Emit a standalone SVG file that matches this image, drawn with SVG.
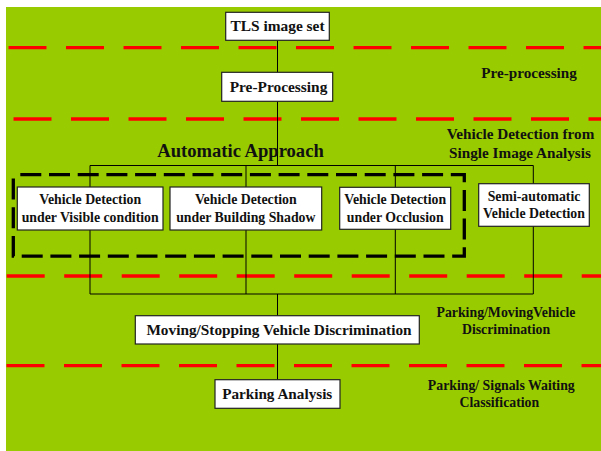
<svg xmlns="http://www.w3.org/2000/svg" width="601" height="451" viewBox="0 0 601 451">
<style>
text{font-family:"Liberation Serif","Times New Roman",serif;font-weight:bold;fill:#111;text-anchor:middle}
.box{fill:#fff;stroke:#222;stroke-width:1.2}
.conn{stroke:#000;stroke-width:1;fill:none}
.sep{stroke:#ff0000;stroke-width:3.3;stroke-dasharray:38 19.5}
.b{font-size:15.4px}
.s{font-size:13.8px}
.lab{font-size:13.8px}
</style>
<rect x="0" y="0" width="601" height="451" fill="#fff"/>
<rect x="6" y="7" width="595" height="444" fill="#99cc00"/>
<g id="separators">
<line class="sep" x1="8.5" y1="47.7" x2="601" y2="47.7"/>
<line class="sep" x1="13.5" y1="119" x2="601" y2="119"/>
<line class="sep" x1="6.7" y1="276" x2="601" y2="276"/>
<line class="sep" x1="6.5" y1="365.7" x2="601" y2="365.7"/>
</g>
<g id="connectors">
<line class="conn" x1="277.5" y1="40.3" x2="277.5" y2="72.3"/>
<line class="conn" x1="277.5" y1="101.3" x2="277.5" y2="165.5"/>
<polyline class="conn" points="90,294 90,165.5 533.3,165.5 533.3,294 90,294"/>
<line class="conn" x1="246" y1="165.5" x2="246" y2="294"/>
<line class="conn" x1="395.3" y1="165.5" x2="395.3" y2="294"/>
<line class="conn" x1="277.5" y1="294" x2="277.5" y2="315.7"/>
<line class="conn" x1="277.5" y1="344" x2="277.5" y2="379.7"/>
</g>
<g id="automatic-approach">
<rect x="13.3" y="174.7" width="451" height="81.5" fill="none" stroke="#000" stroke-width="3.3" stroke-dasharray="21 7.7" stroke-dashoffset="-7"/>
<text x="240.5" y="156.7" style="font-size:18.6px">Automatic Approach</text>
</g>
<g id="tls">
<rect class="box" x="225.7" y="12.3" width="103.6" height="28"/>
<text class="b" x="277.5" y="30.7">TLS image set</text>
</g>
<g id="preprocessing">
<rect class="box" x="221.7" y="72.3" width="111" height="29"/>
<text class="b" x="278.5" y="91.7">Pre-Processing</text>
</g>
<g id="visible">
<rect class="box" x="17.3" y="187" width="145.7" height="43"/>
<text class="s" x="90.2" y="204">Vehicle Detection</text>
<text class="s" x="90.2" y="221.7">under Visible condition</text>
</g>
<g id="shadow">
<rect class="box" x="170" y="187" width="151.7" height="43"/>
<text class="s" x="245.8" y="204">Vehicle Detection</text>
<text class="s" x="245.8" y="221.7">under Building Shadow</text>
</g>
<g id="occlusion">
<rect class="box" x="339.7" y="187.3" width="111" height="42"/>
<text class="s" x="395.2" y="204">Vehicle Detection</text>
<text class="s" x="395.2" y="221.7">under Occlusion</text>
</g>
<g id="semiauto">
<rect class="box" x="478.7" y="183.7" width="110.6" height="42.6"/>
<text class="s" x="534" y="200.7">Semi-automatic</text>
<text class="s" x="534" y="218">Vehicle Detection</text>
</g>
<g id="moving">
<rect class="box" x="135.3" y="315.7" width="284" height="28.3"/>
<text class="b" x="279" y="335" style="font-size:15.3px">Moving/Stopping Vehicle Discrimination</text>
</g>
<g id="parking">
<rect class="box" x="215" y="379.7" width="125" height="28.6"/>
<text class="b" x="277.2" y="399" style="font-size:15.2px">Parking Analysis</text>
</g>
<g id="labels">
<text x="529" y="77.5" style="font-size:15.2px">Pre-processing</text>
<text x="520.5" y="139" style="font-size:15.2px">Vehicle Detection from</text>
<text x="520" y="158" style="font-size:15.2px">Single Image Analysis</text>
<text class="lab" x="506" y="317.3">Parking/MovingVehicle</text>
<text class="lab" x="506" y="334">Discrimination</text>
<text class="lab" x="501.3" y="390">Parking/ Signals Waiting</text>
<text class="lab" x="499.3" y="407.3">Classification</text>
</g>
</svg>
